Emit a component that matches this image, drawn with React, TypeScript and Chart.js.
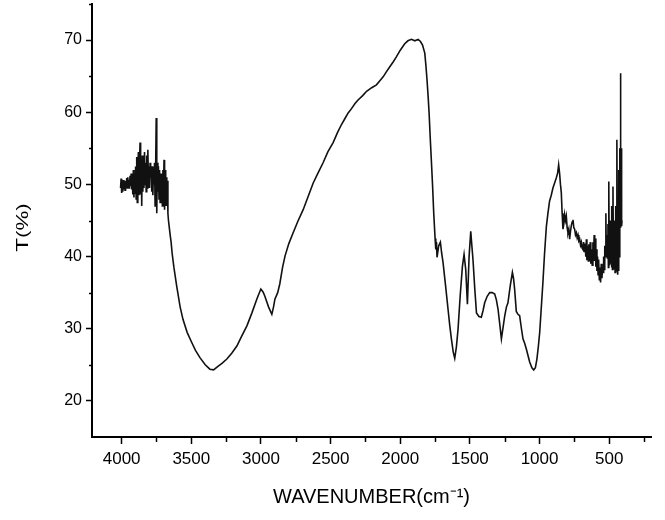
import React, { useEffect, useRef } from "react";
import { Chart, registerables } from "chart.js";

Chart.register(...registerables);

const wavenumbers = [
  4008, 4004, 4000, 3996, 3992, 3988, 3984, 3980, 3976, 3972,
  3968, 3964, 3960, 3956, 3952, 3948, 3944, 3940, 3936, 3932,
  3928, 3924, 3920, 3916, 3912, 3908, 3904, 3900, 3896, 3892,
  3888, 3884, 3880, 3876, 3872, 3868, 3864, 3860, 3856, 3852,
  3848, 3844, 3840, 3836, 3832, 3828, 3824, 3820, 3816, 3812,
  3808, 3804, 3800, 3796, 3792, 3788, 3784, 3780, 3776, 3772,
  3768, 3764, 3760, 3756, 3752, 3748, 3744, 3740, 3736, 3732,
  3728, 3724, 3720, 3716, 3712, 3708, 3704, 3700, 3696, 3692,
  3688, 3684, 3680, 3676, 3672, 3668, 3664, 3658, 3652, 3645,
  3638, 3625, 3605, 3580, 3560, 3530, 3497, 3470, 3438, 3400,
  3367, 3340, 3309, 3280, 3245, 3210, 3173, 3140, 3101, 3065,
  3030, 3001, 2985, 2972, 2945, 2922, 2910, 2900, 2880, 2865,
  2845, 2827, 2800, 2769, 2735, 2697, 2660, 2625, 2590, 2554,
  2520, 2482, 2450, 2422, 2395, 2374, 2350, 2325, 2303, 2270,
  2242, 2205, 2171, 2145, 2123, 2100, 2075, 2050, 2027, 2000,
  1968, 1945, 1920, 1895, 1872, 1855, 1840, 1824, 1816, 1808,
  1800, 1793, 1785, 1776, 1768, 1760, 1750, 1745, 1740, 1736,
  1724, 1712, 1703, 1693, 1675, 1657, 1645, 1633, 1620, 1609,
  1597, 1585, 1570, 1554, 1542, 1530, 1518, 1506, 1494, 1486,
  1478, 1465, 1453, 1435, 1418, 1406, 1394, 1376, 1358, 1340,
  1322, 1310, 1298, 1285, 1274, 1262, 1250, 1238, 1227, 1210,
  1195, 1187, 1179, 1167, 1155, 1143, 1130, 1119, 1107, 1095,
  1083, 1071, 1055, 1042, 1030, 1019, 1009, 999, 988, 976,
  964, 951, 940, 928, 916, 904, 892, 880, 870, 863,
  856, 850, 844, 838, 832, 826, 820, 814, 808, 802,
  796, 790, 784, 778, 772, 766, 760, 754, 748, 742,
  736, 730, 724, 718, 712, 706, 700, 695, 689, 684,
  678, 673, 668, 664, 660, 655, 650, 646, 641, 636,
  632, 627, 622, 617, 613, 608, 604, 600, 596, 592,
  588, 584, 580, 576, 571, 567, 562, 557, 552, 548,
  544, 540, 536, 532, 528, 524, 521, 517, 513, 509,
  506, 503, 500, 497, 494, 490, 487, 484, 480, 477,
  473, 470, 466, 462, 458, 455, 452, 448, 445, 442,
  439, 436, 433, 430, 427, 424, 421, 419, 417, 414,
  411, 408,
];

// Transmittance (%) at each wavenumber above
const transmittance = [
  49.5, 50.8, 48.8, 50.2, 49.0, 50.6, 49.3, 50.4, 49.2, 50.5,
  49.6, 50.9, 49.5, 51.0, 49.7, 50.6, 49.4, 51.2, 49.8, 51.5,
  49.3, 51.0, 48.6, 52.0, 48.2, 51.5, 48.8, 52.5, 48.0, 53.8,
  47.5, 52.0, 54.5, 48.5, 53.0, 55.8, 48.6, 53.5, 47.0, 54.0,
  49.0, 53.5, 49.5, 54.5, 50.0, 53.0, 49.0, 54.0, 49.5, 54.8,
  50.5, 52.5, 49.5, 53.0, 51.0, 52.5, 49.0, 52.5, 48.5, 52.0,
  50.0, 53.0, 47.0, 52.5, 59.2, 46.0, 53.0, 49.0, 52.5, 48.0,
  52.0, 47.5, 51.5, 48.0, 51.5, 47.0, 52.0, 48.5, 53.4, 46.5,
  52.0, 47.0, 51.0, 47.0, 50.5, 46.0, 45.0, 44.0, 43.0, 42.0,
  40.5, 38.5, 35.9, 33.0, 31.3, 29.5, 28.1, 27.0, 26.0, 25.0,
  24.4, 24.3, 24.8, 25.2, 25.8, 26.6, 27.6, 28.9, 30.4, 32.2,
  34.1, 35.5, 35.1, 34.5, 33.0, 32.0, 33.0, 34.1, 35.0, 36.2,
  38.5, 40.1, 41.8, 43.3, 44.9, 46.5, 48.4, 50.2, 51.6, 53.0,
  54.5, 55.8, 57.2, 58.3, 59.2, 59.9, 60.5, 61.2, 61.7, 62.3,
  62.9, 63.4, 63.8, 64.4, 64.9, 65.6, 66.3, 67.0, 67.7, 68.6,
  69.5, 69.9, 70.1, 69.9, 70.1, 69.8, 69.3, 68.2, 66.5, 64.5,
  62.2, 59.9, 56.5, 53.0, 49.8, 46.1, 42.5, 41.0, 42.0, 39.9,
  41.5, 42.0, 40.5, 39.2, 36.0, 32.7, 30.5, 28.6, 26.8, 25.9,
  27.5, 30.0, 34.5, 38.6, 40.3, 38.2, 33.4, 40.0, 43.5, 41.5,
  39.6, 35.5, 32.2, 31.7, 31.6, 32.5, 33.6, 34.5, 35.0, 35.0,
  34.8, 34.0, 32.7, 30.5, 28.6, 30.2, 31.8, 33.0, 33.6, 36.0,
  37.8, 37.0, 35.5, 32.4, 32.0, 31.8, 30.0, 28.6, 28.0, 27.2,
  26.3, 25.4, 24.6, 24.3, 24.6, 25.8, 27.5, 29.5, 32.8, 36.4,
  40.5, 44.2, 46.0, 47.7, 48.5, 49.5, 50.2, 50.9, 51.6, 52.7,
  51.5, 50.0, 48.9, 46.0, 43.8, 44.5, 45.8, 45.0, 45.6, 44.0,
  43.3, 43.8, 42.4, 43.5, 44.3, 44.8, 45.1, 44.0, 43.8, 43.0,
  43.3, 42.6, 43.0, 42.2, 42.4, 41.6, 42.0, 41.2, 41.0, 42.0,
  40.6, 41.8, 40.0, 42.4, 39.5, 41.5, 39.4, 41.7, 39.4, 42.0,
  39.0, 41.0, 38.8, 42.0, 39.4, 43.0, 39.4, 42.5, 38.6, 41.0,
  38.0, 40.0, 37.5, 39.6, 36.8, 38.5, 36.4, 39.0, 37.0, 38.6,
  37.8, 40.0, 38.2, 41.5, 40.0, 46.0, 40.5, 43.0, 39.8, 44.5,
  38.5, 50.4, 41.0, 38.8, 45.0, 39.0, 43.0, 38.5, 47.0, 38.2,
  49.7, 41.0, 38.2, 45.0, 37.8, 47.0, 40.0, 38.0, 56.2, 43.0,
  37.5, 48.0, 38.0, 52.0, 40.0, 55.0, 45.0, 65.4, 44.0, 55.0,
  44.2, 45.0,
];

const xMajorTicks = [4000, 3500, 3000, 2500, 2000, 1500, 1000, 500];
const xMinorTicks = [3750, 3250, 2750, 2250, 1750, 1250, 750, 250];
const yMajorTicks = [20, 30, 40, 50, 60, 70];
const yMinorTicks = [25, 35, 45, 55, 65, 75];
const xAxisTitle = "WAVENUMBER(cm\u207B\u00B9)";
const yAxisTitle = "T(%)";

const FONT = "'Liberation Sans', Arial, Helvetica, sans-serif";

const minorTicksPlugin = {
  id: "minorTicks",
  afterDraw(chart: any) {
    const { ctx, chartArea } = chart;
    const x = chart.scales.x;
    const y = chart.scales.y;
    ctx.save();
    ctx.strokeStyle = "#000";
    ctx.lineWidth = 1.5;
    xMinorTicks.forEach((v) => {
      const px = Math.round(x.getPixelForValue(v)) + 0.5;
      if (px < chartArea.left - 1 || px > chartArea.right + 1) return;
      ctx.beginPath();
      ctx.moveTo(px, chartArea.bottom);
      ctx.lineTo(px, chartArea.bottom + 5);
      ctx.stroke();
    });
    yMinorTicks.forEach((v) => {
      const py = Math.round(y.getPixelForValue(v)) + 0.5;
      if (py < chartArea.top - 1 || py > chartArea.bottom + 1) return;
      ctx.beginPath();
      ctx.moveTo(chartArea.left, py);
      ctx.lineTo(chartArea.left - 3, py);
      ctx.stroke();
    });
    ctx.restore();
  },
};

// Vertical axis title, stretched along its length like the reference
const yTitlePlugin = {
  id: "yTitle",
  afterDraw(chart: any) {
    const { ctx, chartArea } = chart;
    ctx.save();
    ctx.translate(24, (chartArea.top + chartArea.bottom) / 2 + 7);
    ctx.rotate(-Math.PI / 2);
    ctx.scale(1.4, 1);
    ctx.font = `16px ${FONT}`;
    ctx.textAlign = "center";
    ctx.textBaseline = "middle";
    ctx.fillStyle = "#000";
    ctx.fillText(yAxisTitle, 0, 0);
    ctx.restore();
  },
};

export default function App() {
  const canvasRef = useRef<HTMLCanvasElement | null>(null);

  useEffect(() => {
    if (!canvasRef.current) return;
    const points = wavenumbers.map((w, i) => ({ x: w, y: transmittance[i] }));
    const chart = new Chart(canvasRef.current, {
      type: "line",
      data: {
        datasets: [
          {
            data: points,
            borderColor: "#111",
            borderWidth: 1.6,
            pointRadius: 0,
            tension: 0,
            fill: false,
          },
        ],
      },
      plugins: [minorTicksPlugin, yTitlePlugin],
      options: {
        animation: false,
        responsive: false,
        maintainAspectRatio: false,
        layout: { padding: { top: 4, right: 14, left: 0, bottom: 0 } },
        plugins: {
          legend: { display: false },
          tooltip: { enabled: false },
        },
        scales: {
          x: {
            type: "linear",
            reverse: true,
            min: 200,
            max: 4213,
            afterBuildTicks: (scale: any) => {
              scale.ticks = xMajorTicks.map((v) => ({ value: v }));
            },
            afterFit: (scale: any) => {
              scale.height = 83;
              scale.paddingLeft = 0;
              scale.paddingRight = 0;
            },
            grid: {
              display: true,
              drawOnChartArea: false,
              drawTicks: true,
              tickLength: 7,
              tickWidth: 1.5,
              tickColor: "#000",
            },
            border: { display: true, color: "#000", width: 2 },
            ticks: {
              color: "#000",
              font: { family: FONT, size: 17 },
              padding: 5,
              maxRotation: 0,
              autoSkip: false,
              callback: (v: any) => String(v),
            },
            title: {
              display: true,
              text: xAxisTitle,
              color: "#000",
              font: { family: FONT, size: 20 },
              padding: { top: 0, bottom: 11 },
            },
          },
          y: {
            type: "linear",
            min: 15,
            max: 75,
            afterBuildTicks: (scale: any) => {
              scale.ticks = yMajorTicks.map((v) => ({ value: v }));
            },
            afterFit: (scale: any) => {
              scale.width = 92;
              scale.paddingTop = 0;
              scale.paddingBottom = 0;
            },
            grid: {
              display: true,
              drawOnChartArea: false,
              drawTicks: true,
              tickLength: 6,
              tickWidth: 1.5,
              tickColor: "#000",
            },
            border: { display: true, color: "#000", width: 2 },
            ticks: {
              color: "#000",
              font: { family: FONT, size: 16 },
              padding: 4,
              callback: (v: any) => String(v),
            },
            title: { display: false, text: yAxisTitle },
          },
        },
      },
    } as any);
    return () => chart.destroy();
  }, []);

  return (
    <div style={{ position: "fixed", left: 0, top: 0, width: 665, height: 520, background: "#fff" }}>
      <canvas ref={canvasRef} width={665} height={520} style={{ display: "block" }} />
    </div>
  );
}
